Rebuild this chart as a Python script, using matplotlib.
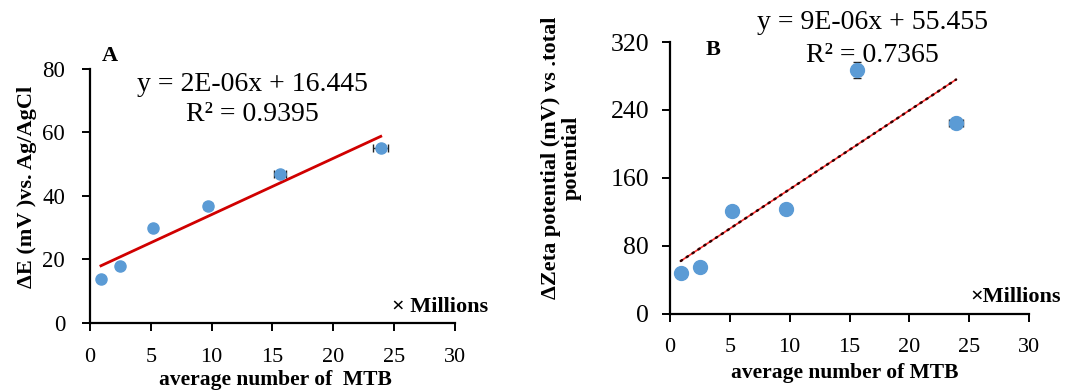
import numpy as np
import matplotlib
matplotlib.use("Agg")
import matplotlib.pyplot as plt

plt.rcParams['font.family'] = ['Liberation Serif', 'DejaVu Serif']

# average number of MTB (millions)
mtb = [0.9, 2.5, 5.2, 9.7, 15.6, 23.9]

# panel A : delta E (mV) vs Ag/AgCl
dE = [14, 18, 30, 37, 47, 55]
dE_xerr = [0.1, 0.1, 0.1, 0.3, 0.5, 0.6]
dE_yerr = [0.5, 0.8, 0.6, 0.8, 0.8, 0.5]

# panel B : delta zeta potential (mV)
zeta = [48, 55, 121.5, 124, 287, 225]
zeta_xerr = [0.1, 0.1, 0.2, 0.3, 0.3, 0.6]
zeta_yerr = [1, 3, 3, 3, 9, 6]

blue = '#5B9BD5'

fig = plt.figure(figsize=(10.69, 3.9), dpi=100)
axA = fig.add_axes([0.0842, 0.1718, 0.3414, 0.6513])
axB = fig.add_axes([0.6268, 0.1949, 0.3358, 0.6974])


def style(ax, ymax, ystep, ysize, ypad, xpad):
    ax.set_xlim(0, 30)
    ax.set_ylim(0, ymax)
    ax.set_xticks(np.arange(0, 31, 5))
    ax.set_yticks(np.arange(0, ymax + 1, ystep))
    for s in ['top', 'right']:
        ax.spines[s].set_visible(False)
    for s in ['left', 'bottom']:
        ax.spines[s].set_linewidth(1.6)
    ax.tick_params(direction='out', length=6, width=1.4)
    ax.tick_params(axis='y', labelsize=ysize, pad=ypad)
    ax.tick_params(axis='x', labelsize=16, pad=xpad)


# ---- A
style(axA, 80, 20, 16.5, 12, 12)
axA.errorbar(mtb, dE, xerr=dE_xerr, yerr=dE_yerr, fmt='o', color=blue,
             ms=8, ecolor='#222222', elinewidth=1, capsize=3, zorder=3)
k, b = np.polyfit(mtb, dE, 1)
xx = np.array([mtb[0], mtb[-1]])
axA.plot(xx, k * xx + b, color='#d00000', lw=2, zorder=2)
axA.text(0.444, 0.937, 'y = 2E-06x + 16.445', transform=axA.transAxes,
         ha='center', va='center', fontsize=20)
axA.text(0.444, 0.819, 'R² = 0.9395', transform=axA.transAxes,
         ha='center', va='center', fontsize=20)
axA.text(0.055, 1.05, 'A', transform=axA.transAxes, ha='center', va='center',
         fontsize=16, fontweight='bold')
axA.text(0.827, 0.063, '× Millions', transform=axA.transAxes, ha='left', va='center',
         fontsize=16, fontweight='bold')
axA.set_ylabel('ΔE (mV )vs. Ag/AgCl', fontsize=16, fontweight='bold')
axA.yaxis.label.set_va('center')
axA.yaxis.set_label_coords(-0.173, 0.535)
axA.set_xlabel('average number of  MTB', fontsize=15.5, fontweight='bold')
axA.xaxis.label.set_va('center')
axA.xaxis.set_label_coords(0.507, -0.224)

# ---- B
style(axB, 320, 80, 18.5, 9, 11)
axB.errorbar(mtb, zeta, xerr=zeta_xerr, yerr=zeta_yerr, fmt='o', color=blue,
             ms=10, ecolor='#222222', elinewidth=1, capsize=3, zorder=3)
k, b = np.polyfit(mtb, zeta, 1)
axB.plot(xx, k * xx + b, color='#ff3030', lw=1.2, zorder=2)
axB.plot(xx, k * xx + b, color='#300000', lw=1.8, ls=(0, (0.6, 2.2)),
         dash_capstyle='round', zorder=2)
axB.text(0.565, 1.07, 'y = 9E-06x + 55.455', transform=axB.transAxes,
         ha='center', va='center', fontsize=20)
axB.text(0.565, 0.952, 'R² = 0.7365', transform=axB.transAxes,
         ha='center', va='center', fontsize=20)
axB.text(0.12, 0.97, 'B', transform=axB.transAxes, ha='center', va='center',
         fontsize=16, fontweight='bold')
axB.text(0.836, 0.0625, '×Millions', transform=axB.transAxes, ha='left', va='center',
         fontsize=16, fontweight='bold')
axB.set_ylabel('ΔZeta potential (mV) vs .total\npotential', fontsize=16,
               fontweight='bold', linespacing=1.05)
axB.yaxis.label.set_va('center')
axB.yaxis.set_label_coords(-0.302, 0.574)
axB.set_xlabel('average number of MTB', fontsize=15.5, fontweight='bold')
axB.xaxis.label.set_va('center')
axB.xaxis.set_label_coords(0.487, -0.217)

fig.savefig('out.png', dpi=100)
